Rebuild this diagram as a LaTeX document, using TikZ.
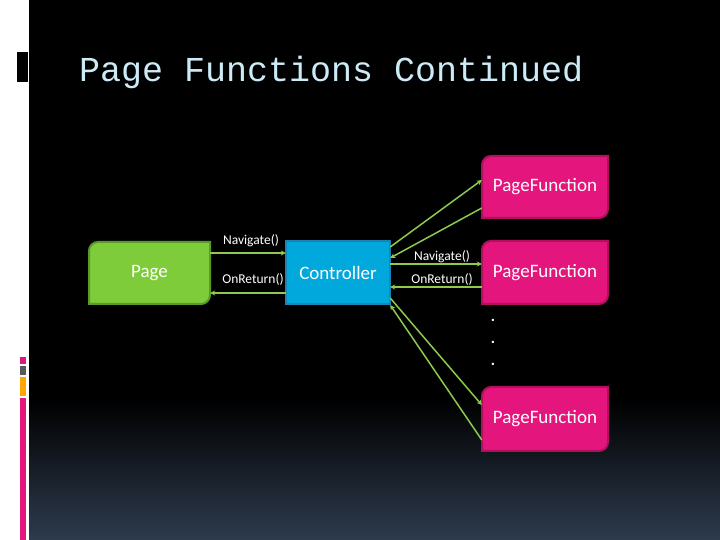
\documentclass[tikz,border=0pt]{standalone}
\usepackage{fontspec}
\setmainfont{Carlito}
\newfontfamily\titlefont{Liberation Mono}
\usetikzlibrary{arrows.meta}
\definecolor{pgreen}{HTML}{7FCC3A}\definecolor{pgreenD}{HTML}{5A9A2A}
\definecolor{cblue}{HTML}{00A8DC}\definecolor{cblueD}{HTML}{1A85B5}
\definecolor{fpink}{HTML}{E4167E}\definecolor{fpinkD}{HTML}{B0105C}
\definecolor{arr}{HTML}{8CCB4E}\definecolor{ttl}{HTML}{CDEBF7}
\definecolor{bgb}{HTML}{2E3B4E}
\tikzset{
  lbl/.style={font=\fontsize{13.5}{14}\selectfont,text=white,inner sep=0},
  dotlbl/.style={font=\fontsize{16}{16}\selectfont\bfseries,text=white,inner sep=0},
  boxtxt/.style={font=\fontsize{19}{20}\selectfont,text=white,inner sep=0},
  conn/.style={draw=arr,line width=1.5pt,-{Stealth[length=5pt,width=5pt]}},
}
\newcommand{\snipbox}[6]{% x1 y1 x2 y2 fill draw
  \filldraw[fill=#5,draw=#6,line width=2pt] (#1,#2) -- (#1,#4-9) arc(180:90:9) -- (#3,#4) -- (#3,#2+9) arc(0:-90:9) -- cycle;}
\begin{document}
\begin{tikzpicture}[x=1pt,y=1pt]
\useasboundingbox (0,0) rectangle (720,540);
\fill[white] (0,0) rectangle (29,540);
\fill[black] (29,140) rectangle (720,540);
\shade[top color=black,bottom color=bgb] (29,0) rectangle (720,140.5);
\fill[black] (17,458) rectangle (28,488);
\fill[fpink] (20,176) rectangle (26,183);
\fill[gray!70!black] (20,165) rectangle (26,174);
\fill[orange!70!yellow] (20,144) rectangle (26,163);
\fill[fpink] (20,0) rectangle (26,142);
\node[anchor=base west,inner sep=0,text=ttl,font=\titlefont\fontsize{35}{36}\selectfont] (title) at (79,458) {Page Functions Continued};
\snipbox{89}{236}{210}{298}{pgreen}{pgreenD}
\filldraw[fill=cblue,draw=cblueD,line width=2pt] (286,236) rectangle (390,299);
\snipbox{482}{322}{608}{384}{fpink}{fpinkD}
\snipbox{482}{236}{608}{299}{fpink}{fpinkD}
\snipbox{482}{89}{608}{153}{fpink}{fpinkD}
\node[boxtxt,minimum width=121,minimum height=62] (page) at (149.5,267) {Page};
\node[boxtxt,minimum width=104,minimum height=63] (ctrl) at (338,267.5) {Controller};
\node[boxtxt,minimum width=126,minimum height=62] (pf1) at (545,353) {PageFunction};
\node[boxtxt,minimum width=126,minimum height=63] (pf2) at (545,267.5) {PageFunction};
\node[boxtxt,minimum width=126,minimum height=64] (pf3) at (545,121) {PageFunction};
\draw[conn] (page.east|-0,287) -- (ctrl.west|-0,287);
\draw[conn] (ctrl.west|-0,247) -- (page.east|-0,247);
\draw[conn] (ctrl.east|-0,276) -- (pf2.west|-0,276);
\draw[conn] (pf2.west|-0,253) -- (ctrl.east|-0,253);
\draw[conn] (ctrl.east|-0,293) -- (pf1.west|-0,360);
\draw[conn] (pf1.west|-0,332) -- (ctrl.east|-0,282);
\draw[conn] (ctrl.east|-0,242) -- (pf3.west|-0,135);
\draw[conn] (pf3.west|-0,100) -- (ctrl.east|-0,235);
\node[lbl] (n1) at (251,299) {Navigate()};
\node[lbl] (r1) at (253,260) {OnReturn()};
\node[lbl] (n2) at (442,283) {Navigate()};
\node[lbl] (r2) at (442,260) {OnReturn()};
\foreach \yy/\nm in {220/d1,198/d2,176/d3}{\node[dotlbl] (\nm) at (493,\yy) {.};}
\end{tikzpicture}
\end{document}
